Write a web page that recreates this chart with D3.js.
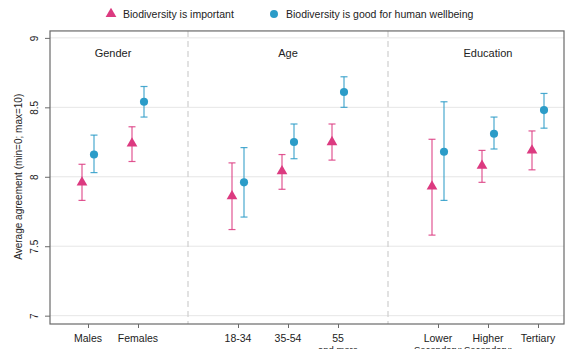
<!DOCTYPE html>
<html>
<head>
<meta charset="utf-8">
<script src="https://cdn.jsdelivr.net/npm/d3@7"></script>
<style>
  body { margin: 0; background: #fff; }
  text { font-family: "Liberation Sans", Arial, sans-serif; fill: #222; }
</style>
</head>
<body>
<script>
// categories and their slot on the x axis
const categories = ["Males", "Females", "18-34", "35-54", "55\nand more", "Lower\nSecondary:", "Higher\nSecondary:", "Tertiary"];
const slots = [1, 2, 4, 5, 6, 8, 9, 10];
const groups = [
  { name: "Gender", center: 1.5 },
  { name: "Age", center: 5 },
  { name: "Education", center: 9 }
];
const separators = [3, 7];
const yTicks = [7, 7.5, 8, 8.5, 9];

// Biodiversity is important (mean, low, high)
const importantMean = [7.96, 8.24, 7.86, 8.04, 8.25, 7.93, 8.08, 8.19];
const importantLow  = [7.83, 8.11, 7.62, 7.91, 8.12, 7.58, 7.96, 8.05];
const importantHigh = [8.09, 8.36, 8.10, 8.16, 8.38, 8.27, 8.19, 8.33];

// Biodiversity is good for human wellbeing
const wellbeingMean = [8.16, 8.54, 7.96, 8.25, 8.61, 8.18, 8.31, 8.48];
const wellbeingLow  = [8.03, 8.43, 7.71, 8.13, 8.50, 7.83, 8.20, 8.35];
const wellbeingHigh = [8.30, 8.65, 8.21, 8.38, 8.72, 8.54, 8.43, 8.60];

const pink = "#dc3a80", blue = "#2b9cc8";
const W = 571, H = 349;
const m = { top: 31, right: 7, bottom: 25, left: 50 };

const svg = d3.select("body").append("svg").attr("width", W).attr("height", H);

const x = d3.scaleLinear().domain([0.24, 10.52]).range([m.left, W - m.right]);
const y = d3.scaleLinear().domain([6.94, 9.1]).range([H - m.bottom, m.top - 7]);
const yTop = y(9.05);

// grid
svg.append("g").selectAll("line").data(yTicks).join("line")
  .attr("x1", m.left).attr("x2", W - m.right)
  .attr("y1", d => y(d)).attr("y2", d => y(d))
  .attr("stroke", "#e6e6e6").attr("stroke-width", 1);

svg.append("g").selectAll("line").data(separators).join("line")
  .attr("x1", d => x(d)).attr("x2", d => x(d))
  .attr("y1", yTop).attr("y2", H - m.bottom)
  .attr("stroke", "#cfcfcf").attr("stroke-width", 1.2).attr("stroke-dasharray", "6,4");

// frame
svg.append("rect")
  .attr("x", m.left).attr("y", yTop)
  .attr("width", W - m.right - m.left).attr("height", H - m.bottom - yTop)
  .attr("fill", "none").attr("stroke", "#6a6a6a").attr("stroke-width", 1.2);

// y axis, labels rotated like the original
const yAxis = svg.append("g").attr("transform", `translate(${m.left},0)`)
  .call(d3.axisLeft(y).tickValues(yTicks).tickSize(5).tickFormat(d3.format("")));
yAxis.select(".domain").remove();
yAxis.selectAll("line").attr("stroke", "#6a6a6a");
yAxis.selectAll("text")
  .attr("font-size", 10).attr("fill", "#222")
  .attr("x", 0).attr("y", 0).attr("dy", 0)
  .attr("text-anchor", "middle")
  .attr("transform", "translate(-12,0) rotate(-90)");

svg.append("text")
  .attr("transform", `translate(22,${y(8)}) rotate(-90)`)
  .attr("text-anchor", "middle").attr("font-size", 10)
  .text("Average agreement  (min=0; max=10)");

// x axis
const xAxis = svg.append("g").attr("transform", `translate(0,${H - m.bottom})`)
  .call(d3.axisBottom(x).tickValues(slots).tickSize(4).tickFormat(() => ""));
xAxis.select(".domain").remove();
xAxis.selectAll("line").attr("stroke", "#6a6a6a");

const labels = svg.append("g").selectAll("text").data(categories).join("text")
  .attr("x", (d, i) => x(slots[i])).attr("y", H - m.bottom + 18)
  .attr("text-anchor", "middle").attr("font-size", 10.5);
labels.each(function (d) {
  const t = d3.select(this);
  d.split("\n").forEach((p, j) => t.append("tspan")
    .attr("x", t.attr("x")).attr("dy", j ? 11 : 0)
    .attr("font-size", j ? 9.5 : 10.5).text(p));
});

// group titles
svg.append("g").selectAll("text").data(groups).join("text")
  .attr("x", d => x(d.center)).attr("y", 57)
  .attr("text-anchor", "middle").attr("font-size", 11)
  .text(d => d.name);

// series
function drawSeries(mean, low, high, color, dx, shape) {
  const g = svg.append("g");
  const idx = d3.range(mean.length);
  g.selectAll("line.bar").data(idx).join("line")
    .attr("x1", i => x(slots[i]) + dx).attr("x2", i => x(slots[i]) + dx)
    .attr("y1", i => y(low[i])).attr("y2", i => y(high[i]))
    .attr("stroke", color).attr("stroke-width", 1.2).attr("opacity", 0.85);
  [low, high].forEach(arr => {
    g.selectAll(null).data(idx).join("line")
      .attr("x1", i => x(slots[i]) + dx - 3.5).attr("x2", i => x(slots[i]) + dx + 3.5)
      .attr("y1", i => y(arr[i])).attr("y2", i => y(arr[i]))
      .attr("stroke", color).attr("stroke-width", 1.2).attr("opacity", 0.85);
  });
  g.selectAll("path").data(idx).join("path")
    .attr("d", d3.symbol().type(shape).size(shape === d3.symbolCircle ? 52 : 50))
    .attr("transform", i => `translate(${x(slots[i]) + dx},${y(mean[i])})`)
    .attr("fill", color);
}
drawSeries(importantMean, importantLow, importantHigh, pink, -6, d3.symbolTriangle);
drawSeries(wellbeingMean, wellbeingLow, wellbeingHigh, blue, 6, d3.symbolCircle);

// legend
const legend = [
  { label: "Biodiversity is important", color: pink, shape: d3.symbolTriangle, x: 111 },
  { label: "Biodiversity is good for human wellbeing", color: blue, shape: d3.symbolCircle, x: 274 }
];
const lg = svg.append("g").selectAll("g").data(legend).join("g")
  .attr("transform", d => `translate(${d.x},14)`);
lg.append("path").attr("d", d => d3.symbol().type(d.shape).size(50)()).attr("fill", d => d.color);
lg.append("text").attr("x", 12).attr("y", 4).attr("font-size", 10.5).text(d => d.label);
</script>
</body>
</html>
